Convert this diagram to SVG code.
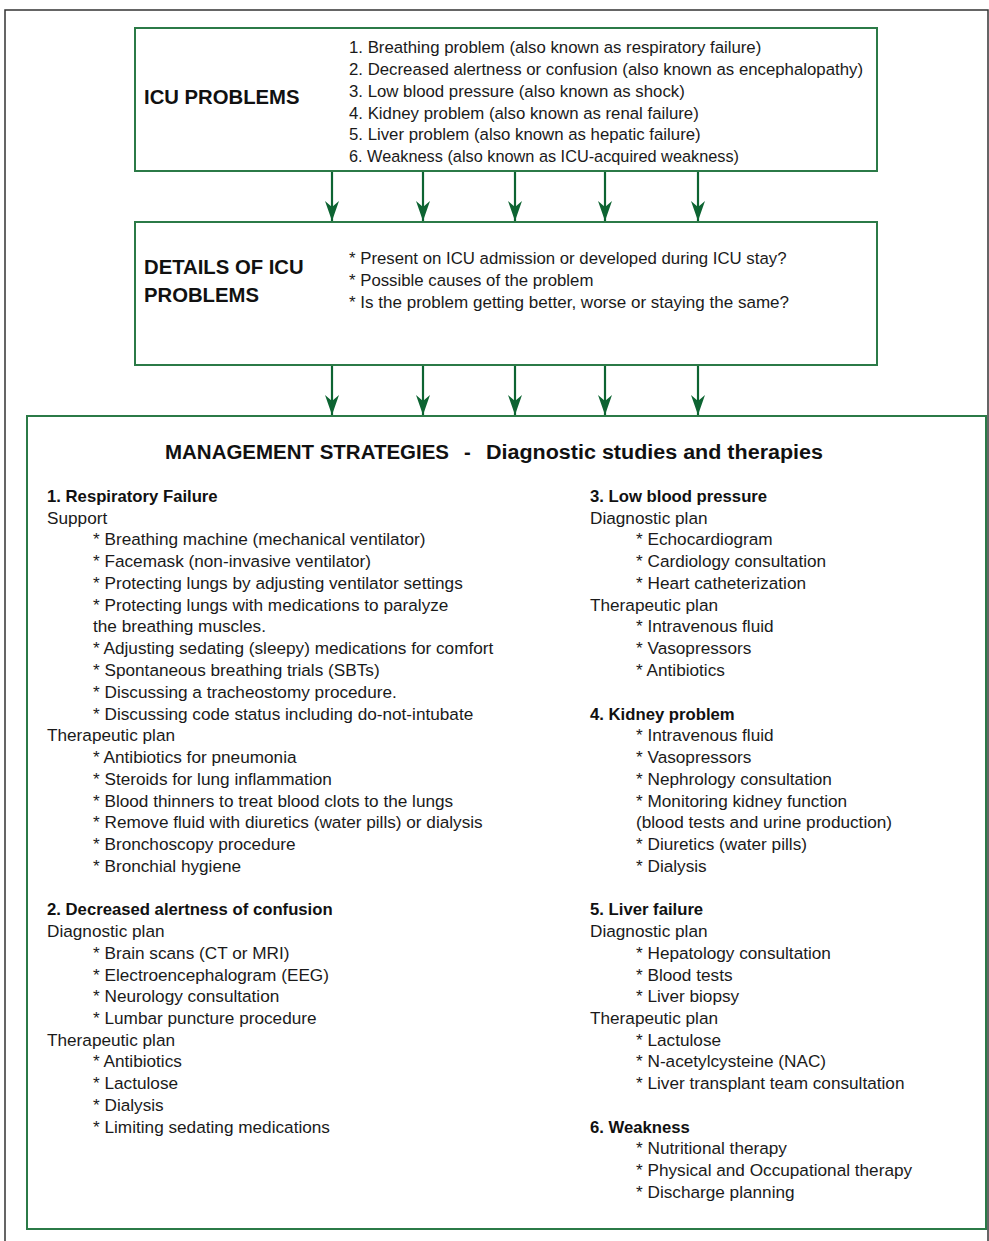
<svg xmlns="http://www.w3.org/2000/svg" width="989" height="1241" viewBox="0 0 989 1241">
<style>
.box{fill:#fff;stroke:#2b7a47;stroke-width:2}
.frame{fill:none;stroke:#333;stroke-width:1.5}
.arr{stroke:#0d6432;stroke-width:2.2;fill:none}
.t{font-family:"Liberation Sans",Arial,sans-serif;font-size:16.8px;fill:#1a1a1a}
.m{font-family:"Liberation Sans",Arial,sans-serif;font-size:17.2px;fill:#1a1a1a}
.b{font-family:"Liberation Sans",Arial,sans-serif;font-size:16.7px;font-weight:bold;fill:#111}
.h{font-family:"Liberation Sans",Arial,sans-serif;font-size:20.3px;font-weight:bold;fill:#111}
</style>
<defs>
<marker id="ah" viewBox="0 0 20 14" refX="20" refY="7" markerWidth="20" markerHeight="14" markerUnits="userSpaceOnUse" orient="auto">
<path d="M0,0 L6,7 L0,14 L20,7 Z" fill="#0d6432"/>
</marker>
</defs>
<rect width="989" height="1241" fill="#fff"/>
<rect class="frame" x="5" y="10" width="983" height="1240"/>
<g id="icu-problems">
<rect class="box" x="135" y="28" width="742" height="143"/>
<text class="h" x="144" y="104">ICU PROBLEMS</text>
<text class="t" x="349" y="53">1. Breathing problem (also known as respiratory failure)</text>
<text class="t" x="349" y="75">2. Decreased alertness or confusion (also known as encephalopathy)</text>
<text class="t" x="349" y="97">3. Low blood pressure (also known as shock)</text>
<text class="t" x="349" y="119">4. Kidney problem (also known as renal failure)</text>
<text class="t" x="349" y="140">5. Liver problem (also known as hepatic failure)</text>
<text class="t" x="349" y="162" textLength="390" lengthAdjust="spacingAndGlyphs">6. Weakness (also known as ICU-acquired weakness)</text>
</g>
<g id="details">
<rect class="box" x="135" y="222" width="742" height="143"/>
<text class="h" x="144" y="274">DETAILS OF ICU</text>
<text class="h" x="144" y="302">PROBLEMS</text>
<text class="t" x="349" y="264">* Present on ICU admission or developed during ICU stay?</text>
<text class="t" x="349" y="286">* Possible causes of the problem</text>
<text class="t" x="349" y="308" textLength="440" lengthAdjust="spacingAndGlyphs">* Is the problem getting better, worse or staying the same?</text>
</g>
<g id="management">
<rect class="box" x="27" y="416" width="959" height="813"/>
<text class="h" x="165" y="459" textLength="284" lengthAdjust="spacingAndGlyphs">MANAGEMENT STRATEGIES</text>
<text class="h" x="464" y="459">-</text>
<text class="h" x="486" y="459" textLength="337" lengthAdjust="spacingAndGlyphs">Diagnostic studies and therapies</text>
<g id="col-left">
<text class="b" x="47" y="502">1. Respiratory Failure</text>
<text class="m" x="47" y="524">Support</text>
<text class="m" x="93" y="545">* Breathing machine (mechanical ventilator)</text>
<text class="m" x="93" y="567">* Facemask (non-invasive ventilator)</text>
<text class="m" x="93" y="589">* Protecting lungs by adjusting ventilator settings</text>
<text class="m" x="93" y="611">* Protecting lungs with medications to paralyze</text>
<text class="m" x="93" y="632">the breathing muscles.</text>
<text class="m" x="93" y="654">* Adjusting sedating (sleepy) medications for comfort</text>
<text class="m" x="93" y="676">* Spontaneous breathing trials (SBTs)</text>
<text class="m" x="93" y="698">* Discussing a tracheostomy procedure.</text>
<text class="m" x="93" y="720">* Discussing code status including do-not-intubate</text>
<text class="m" x="47" y="741">Therapeutic plan</text>
<text class="m" x="93" y="763">* Antibiotics for pneumonia</text>
<text class="m" x="93" y="785">* Steroids for lung inflammation</text>
<text class="m" x="93" y="807">* Blood thinners to treat blood clots to the lungs</text>
<text class="m" x="93" y="828">* Remove fluid with diuretics (water pills) or dialysis</text>
<text class="m" x="93" y="850">* Bronchoscopy procedure</text>
<text class="m" x="93" y="872">* Bronchial hygiene</text>
<text class="b" x="47" y="915">2. Decreased alertness of confusion</text>
<text class="m" x="47" y="937">Diagnostic plan</text>
<text class="m" x="93" y="959">* Brain scans (CT or MRI)</text>
<text class="m" x="93" y="981">* Electroencephalogram (EEG)</text>
<text class="m" x="93" y="1002">* Neurology consultation</text>
<text class="m" x="93" y="1024">* Lumbar puncture procedure</text>
<text class="m" x="47" y="1046">Therapeutic plan</text>
<text class="m" x="93" y="1067">* Antibiotics</text>
<text class="m" x="93" y="1089">* Lactulose</text>
<text class="m" x="93" y="1111">* Dialysis</text>
<text class="m" x="93" y="1133">* Limiting sedating medications</text>
</g>
<g id="col-right">
<text class="b" x="590" y="502">3. Low blood pressure</text>
<text class="m" x="590" y="524">Diagnostic plan</text>
<text class="m" x="636" y="545">* Echocardiogram</text>
<text class="m" x="636" y="567">* Cardiology consultation</text>
<text class="m" x="636" y="589">* Heart catheterization</text>
<text class="m" x="590" y="611">Therapeutic plan</text>
<text class="m" x="636" y="632">* Intravenous fluid</text>
<text class="m" x="636" y="654">* Vasopressors</text>
<text class="m" x="636" y="676">* Antibiotics</text>
<text class="b" x="590" y="720">4. Kidney problem</text>
<text class="m" x="636" y="741">* Intravenous fluid</text>
<text class="m" x="636" y="763">* Vasopressors</text>
<text class="m" x="636" y="785">* Nephrology consultation</text>
<text class="m" x="636" y="807">* Monitoring kidney function</text>
<text class="m" x="636" y="828">(blood tests and urine production)</text>
<text class="m" x="636" y="850">* Diuretics (water pills)</text>
<text class="m" x="636" y="872">* Dialysis</text>
<text class="b" x="590" y="915">5. Liver failure</text>
<text class="m" x="590" y="937">Diagnostic plan</text>
<text class="m" x="636" y="959">* Hepatology consultation</text>
<text class="m" x="636" y="981">* Blood tests</text>
<text class="m" x="636" y="1002">* Liver biopsy</text>
<text class="m" x="590" y="1024">Therapeutic plan</text>
<text class="m" x="636" y="1046">* Lactulose</text>
<text class="m" x="636" y="1067">* N-acetylcysteine (NAC)</text>
<text class="m" x="636" y="1089">* Liver transplant team consultation</text>
<text class="b" x="590" y="1133">6. Weakness</text>
<text class="m" x="636" y="1154">* Nutritional therapy</text>
<text class="m" x="636" y="1176">* Physical and Occupational therapy</text>
<text class="m" x="636" y="1198">* Discharge planning</text>
</g>
</g>
<g id="connectors">
<line class="arr" x1="332" y1="172" x2="332" y2="221" marker-end="url(#ah)"/>
<line class="arr" x1="423" y1="172" x2="423" y2="221" marker-end="url(#ah)"/>
<line class="arr" x1="515" y1="172" x2="515" y2="221" marker-end="url(#ah)"/>
<line class="arr" x1="605" y1="172" x2="605" y2="221" marker-end="url(#ah)"/>
<line class="arr" x1="698" y1="172" x2="698" y2="221" marker-end="url(#ah)"/>
<line class="arr" x1="332" y1="366" x2="332" y2="415" marker-end="url(#ah)"/>
<line class="arr" x1="423" y1="366" x2="423" y2="415" marker-end="url(#ah)"/>
<line class="arr" x1="515" y1="366" x2="515" y2="415" marker-end="url(#ah)"/>
<line class="arr" x1="605" y1="366" x2="605" y2="415" marker-end="url(#ah)"/>
<line class="arr" x1="698" y1="366" x2="698" y2="415" marker-end="url(#ah)"/>
</g>
</svg>
